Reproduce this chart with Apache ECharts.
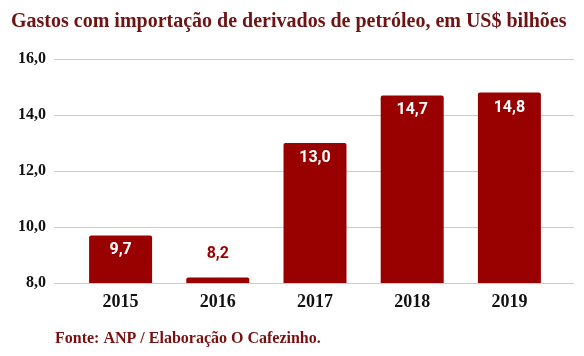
<!DOCTYPE html>
<html>
<head>
<meta charset="utf-8">
<script src="https://cdn.jsdelivr.net/npm/echarts@6/dist/echarts.min.js"></script>
<style>html,body{margin:0;padding:0;background:#fff}#c{width:584px;height:356px}</style>
</head>
<body>
<div id="c"></div>
<script>
const titleText = 'Gastos com importação de derivados de petróleo, em US$ bilhões';
const sourceText = 'Fonte: ANP / Elaboração O Cafezinho.';
const categories = ['2015', '2016', '2017', '2018', '2019'];
const values = [9.7, 8.2, 13.0, 14.7, 14.8];
const yMin = 8, yMax = 16, yInterval = 2;

const fmt = v => v.toFixed(1).replace('.', ',');
const barColor = '#990000';
const serif = '"Liberation Serif", "Times New Roman", serif';

const seriesData = values.map(v => {
  const short = (v - yMin) < 1;
  return {
    value: v,
    label: short
      ? { position: 'top', distance: 15, color: barColor }
      : { position: 'insideTop', distance: 7, color: '#ffffff' }
  };
});

const chart = echarts.init(document.getElementById('c'), null, { renderer: 'canvas' });
chart.setOption({
  animation: false,
  backgroundColor: '#ffffff',
  title: [
    { text: titleText, left: 11, top: 12, padding: 0,
      textStyle: { fontFamily: serif, fontWeight: 'bold', fontSize: 20, color: '#6e1414' } },
    { text: sourceText, left: 55, top: 331, padding: 0,
      textStyle: { fontFamily: serif, fontWeight: 'bold', fontSize: 16, color: '#7a1010' } }
  ],
  grid: [
    { left: 54, right: 10, top: 59, bottom: 73 },
    { left: 72, right: 26, top: 59, bottom: 73 }
  ],
  xAxis: [
    { gridIndex: 0, type: 'category', data: categories, show: false },
    { gridIndex: 1, type: 'category', data: categories,
      axisLine: { show: false }, axisTick: { show: false },
      axisLabel: { fontFamily: serif, fontWeight: 'bold', fontSize: 18, color: '#111', margin: 10 } }
  ],
  yAxis: [
    { gridIndex: 0, type: 'value', min: yMin, max: yMax, interval: yInterval,
      axisLine: { show: false }, axisTick: { show: false },
      axisLabel: { formatter: fmt, fontFamily: serif, fontWeight: 'bold', fontSize: 16, color: '#111', margin: 8 },
      splitLine: { lineStyle: { color: '#cccccc', width: 1 } } },
    { gridIndex: 1, type: 'value', min: yMin, max: yMax, interval: yInterval, show: false,
      splitLine: { show: false } }
  ],
  series: [{
    type: 'bar',
    xAxisIndex: 1, yAxisIndex: 1,
    data: seriesData,
    barWidth: 63,
    itemStyle: { color: barColor, borderRadius: [2, 2, 0, 0] },
    label: { show: true, formatter: p => fmt(p.value),
      fontFamily: 'Roboto, sans-serif', fontWeight: 'bold', fontSize: 16 }
  }]
});
</script>
</body>
</html>
